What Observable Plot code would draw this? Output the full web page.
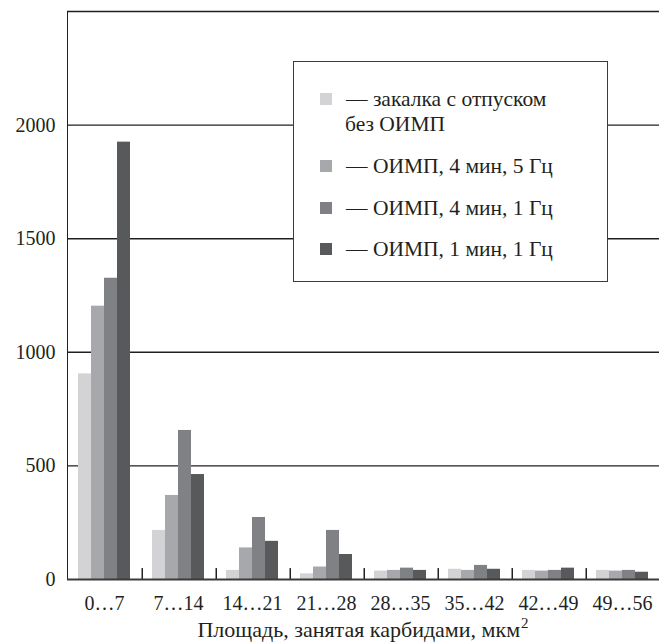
<!DOCTYPE html>
<html><head><meta charset="utf-8">
<script src="https://cdn.jsdelivr.net/npm/d3@7"></script>
<script src="https://cdn.jsdelivr.net/npm/@observablehq/plot@0.6"></script>
<style>
body{margin:0;background:#fff;}
#wrap{position:relative;width:659px;height:642px;font-family:"Liberation Serif","Times New Roman",serif;color:#231f20;}
#legend{position:absolute;left:293px;top:61px;width:313px;height:219px;border:1.5px solid #3b3b3b;background:#fff;}
.row{position:absolute;left:0;width:100%;font-size:21.5px;line-height:25px;}
.sw{position:absolute;left:26px;width:12px;height:12px;}
.tx{position:absolute;left:52px;white-space:nowrap;}
#xtitle{position:absolute;left:67px;width:592px;top:619px;text-align:center;font-size:22px;line-height:22px;white-space:nowrap;}
#xtitle sup{font-size:15px;vertical-align:0;position:relative;top:-9px;margin-left:1px;}
</style></head><body><div id="wrap"></div>
<script>
const groups = ["0…7","7…14","14…21","21…28","28…35","35…42","42…49","49…56"];
const series = ["закалка с отпуском без ОИМП","ОИМП, 4 мин, 5 Гц","ОИМП, 4 мин, 1 Гц","ОИМП, 1 мин, 1 Гц"];
const colors = ["#d3d3d5","#a7a8ab","#808184","#58595b"];
const quenchTemper = [905, 216, 40, 25, 37, 45, 40, 40];
const oimp4min5Hz  = [1203, 370, 139, 55, 40, 40, 37, 37];
const oimp4min1Hz  = [1326, 656, 273, 216, 50, 62, 40, 40];
const oimp1min1Hz  = [1925, 462, 168, 110, 40, 45, 50, 32];
const yTicks = [0, 500, 1000, 1500, 2000];
const yMax = 2500;
const xTitle = "Площадь, занятая карбидами, мкм";
const xTitleSup = "2";

const seriesValues = [quenchTemper, oimp4min5Hz, oimp4min1Hz, oimp1min1Hz];
const data = [];
groups.forEach((g, i) => series.forEach((s, j) => data.push({group: g, series: s, value: seriesValues[j][i]})));

const W = 659, H = 642, mL = 67, mR = 0, mT = 11, mB = 63;
const facetW = (W - mL - mR) / groups.length;
const padOuter = 0.74;
const step = facetW / (series.length + 2 * padOuter);
const ink = "#231f20";

// group separators: placed at the left edge of each facet (from the first bar's band)
const separators = groups.slice(1).map(g => ({group: g, series: series[0]}));

const chart = Plot.plot({
  width: W, height: H,
  marginLeft: mL, marginRight: mR, marginTop: mT, marginBottom: mB,
  style: {fontFamily: '"Liberation Serif","Times New Roman",serif', fontSize: "20px", color: ink, background: "#fff"},
  fx: {domain: groups, padding: 0, tickSize: 0, tickPadding: 16, label: null},
  x: {domain: series, paddingInner: 0, paddingOuter: padOuter, axis: null},
  y: {domain: [0, yMax], ticks: yTicks, tickSize: 0, tickPadding: 12, label: null, line: true, tickFormat: d => String(d)},
  color: {domain: series, range: colors},
  marks: [
    Plot.ruleY(yTicks.filter(t => t > 0), {stroke: ink, strokeWidth: 1.4}),
    Plot.ruleY([yMax], {stroke: ink, strokeWidth: 1.6}),
    Plot.barY(data, {fx: "group", x: "series", y: "value", fill: "series"}),
    Plot.ruleX(separators, {fx: "group", x: "series", y1: 0, y2: 48, dx: -step * (padOuter + 0.5), stroke: ink, strokeWidth: 1.5}),
    Plot.ruleY([0], {stroke: "#3b3b3b", strokeWidth: 2})
  ]
});
const wrap = document.getElementById("wrap");
wrap.appendChild(chart);

// legend
const leg = document.createElement("div");
leg.id = "legend";
const rowCenters = [37, 104, 146, 187];
series.forEach((s, j) => {
  const row = document.createElement("div");
  row.className = "row";
  const lines = j === 0 ? ["— закалка с отпуском", "без ОИМП"] : ["— " + s];
  row.style.top = (rowCenters[j] - 12.5) + "px";
  const sw = document.createElement("div");
  sw.className = "sw";
  sw.style.background = colors[j];
  sw.style.top = "6px";
  row.appendChild(sw);
  lines.forEach((t, k) => {
    const tx = document.createElement("div");
    tx.className = "tx";
    tx.style.top = (k * 25) + "px";
    if (k > 0) tx.style.left = "51px";
    tx.textContent = t;
    row.appendChild(tx);
  });
  leg.appendChild(row);
});
wrap.appendChild(leg);

const title = document.createElement("div");
title.id = "xtitle";
title.textContent = xTitle;
const sup = document.createElement("sup");
sup.textContent = xTitleSup;
title.appendChild(sup);
wrap.appendChild(title);
</script></body></html>
